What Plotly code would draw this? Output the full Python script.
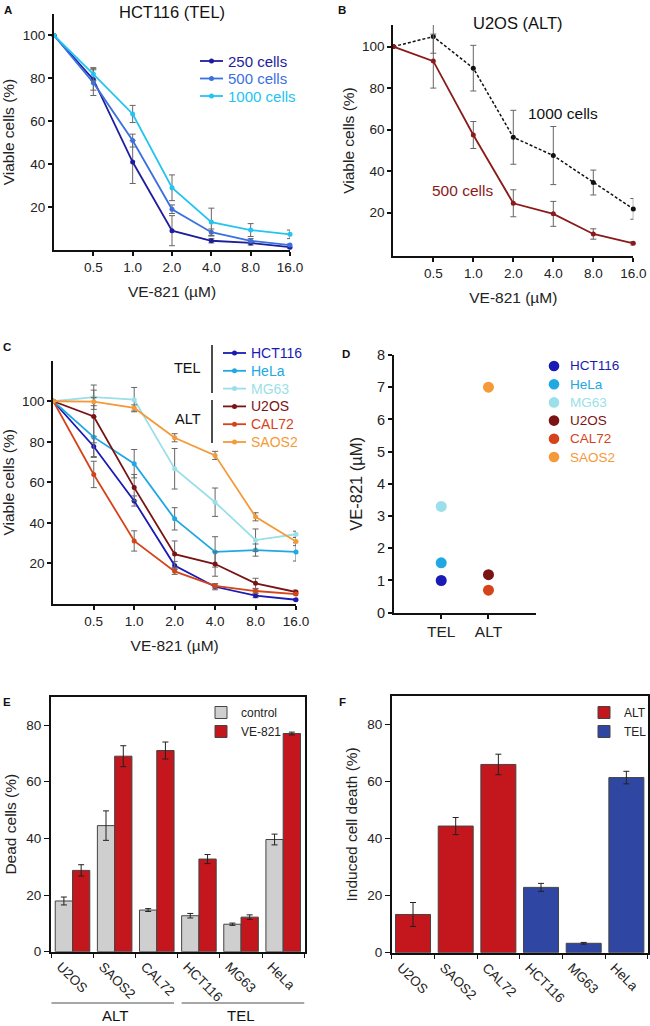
import plotly.graph_objects as go

W, H = 650, 1026
FONT = "Liberation Sans, Arial, sans-serif"

def fx(px):
    return px / W

def fy(py):
    return 1 - py / H

# ---------------- data ----------------
doses = ["0", "0.5", "1.0", "2.0", "4.0", "8.0", "16.0"]

# Panel A: HCT116 (TEL)
a_series = ["250 cells", "500 cells", "1000 cells"]
a_250 = [100, 79.5, 41, 9, 4.3, 3.3, 1.3]
a_250_err = [0, 5, 10, 7, 1, 1, 0.5]
a_500 = [100, 78, 51, 19, 8.3, 4.3, 2.3]
a_500_err = [0, 6, 3, 2, 1.5, 1, 0.5]
a_1000 = [100, 82, 63.4, 29, 13, 9.3, 7.3]
a_1000_err = [0, 3, 4, 6, 6.5, 3, 2]

# Panel B: U2OS (ALT)
b_1000 = [100, 104.8, 89.6, 56.3, 47.5, 34.5, 21.8]
b_1000_err = [0, 8, 11, 13, 14, 6, 5]
b_500 = [100, 93, 57.4, 24.5, 19.4, 9.7, 5.2]
b_500_err = [0, 13, 6.5, 6.5, 6, 2.5, 0.8]

# Panel C: cell lines
c_lines = ["HCT116", "HeLa", "MG63", "U2OS", "CAL72", "SAOS2"]
c_vals = {
    "HCT116": [100, 77.7, 50.8, 19, 8.5, 4.1, 2.1],
    "HeLa": [100, 82.3, 69.2, 42, 25.7, 26.6, 25.7],
    "MG63": [100, 102, 100.8, 66.7, 50.2, 31.5, 34.4],
    "U2OS": [100, 92.5, 57.4, 24.6, 19.7, 10.2, 5.9],
    "CAL72": [100, 63.9, 31.1, 16.1, 8.9, 6.4, 4.9],
    "SAOS2": [100, 99.8, 96.7, 82, 73.3, 43, 30.8],
}
c_errs = {
    "HCT116": [0, 5, 2.5, 2, 1.5, 1, 0.5],
    "HeLa": [0, 10, 7, 5.5, 7.5, 3, 4.5],
    "MG63": [0, 6, 6, 10, 7, 5.5, 1.5],
    "U2OS": [0, 13, 6.5, 6.5, 6, 2.5, 1],
    "CAL72": [0, 6.5, 5, 1.5, 1, 1, 0.5],
    "SAOS2": [0, 2, 1.5, 2, 2, 2, 2],
}

# Panel D: IC50-like values
d_lines = ["HCT116", "HeLa", "MG63", "U2OS", "CAL72", "SAOS2"]
d_groups = ["TEL", "TEL", "TEL", "ALT", "ALT", "ALT"]
d_vals = [1.0, 1.55, 3.3, 1.18, 0.7, 7.0]

# Panel E: dead cells
e_lines = ["U2OS", "SAOS2", "CAL72", "HCT116", "MG63", "HeLa"]
e_ctrl = [17.9, 44.5, 14.7, 12.7, 9.7, 39.6]
e_ctrl_err = [1.4, 5.2, 0.5, 0.8, 0.4, 1.9]
e_ve = [28.7, 69, 71, 32.7, 12.2, 77]
e_ve_err = [2, 3.7, 3, 1.6, 0.8, 0.5]

# Panel F: induced cell death
f_alt_lines = ["U2OS", "SAOS2", "CAL72"]
f_alt = [13.4, 44.4, 66]
f_alt_err = [4.2, 3, 3.6]
f_tel_lines = ["HCT116", "MG63", "HeLa"]
f_tel = [22.9, 3.3, 61.4]
f_tel_err = [1.4, 0.3, 2.2]

# ---------------- styles ----------------
a_colors = ["#1d1d9e", "#3b70e0", "#22c4f0"]
col_c = {"HCT116": "#1a1ab4", "HeLa": "#20a8e2", "MG63": "#9adfe9",
         "U2OS": "#7a1414", "CAL72": "#d5431a", "SAOS2": "#f49a38"}
RED = "#c3171d"
GRAY = "#cfcfcf"
BLUE = "#2f47a2"
ERRC = "#666666"

fig = go.Figure()
ann = []
shapes = []


def err(arr, color=ERRC, w=3):
    return dict(type="data", array=arr, visible=True, color=color, thickness=1, width=w)


def legend_entry(px_x0, px_x1, py, color, text, size, line=True, dot_r=2.5, text_gap=3):
    """Hand-drawn legend row (glyph + coloured text), in paper pixels."""
    if line:
        shapes.append(dict(type="line", xref="paper", yref="paper",
                           x0=fx(px_x0), x1=fx(px_x1), y0=fy(py), y1=fy(py),
                           line=dict(color=color, width=1.8)))
    cx = (px_x0 + px_x1) / 2
    shapes.append(dict(type="circle", xref="paper", yref="paper",
                       x0=fx(cx - dot_r), x1=fx(cx + dot_r), y0=fy(py + dot_r), y1=fy(py - dot_r),
                       fillcolor=color, line=dict(width=0)))
    ann.append(dict(text=text, x=fx(px_x1 + text_gap), y=fy(py), xref="paper", yref="paper",
                    xanchor="left", yanchor="middle", showarrow=False,
                    font=dict(family=FONT, size=size, color=color)))


# Panel A traces
for name, vals, errs, col in zip(a_series, [a_250, a_500, a_1000],
                                 [a_250_err, a_500_err, a_1000_err], a_colors):
    fig.add_trace(go.Scatter(
        x=doses, y=vals, error_y=err(errs), mode="lines+markers",
        line=dict(color=col, width=1.8), marker=dict(size=5, color=col),
        name=name, xaxis="x", yaxis="y", showlegend=False, cliponaxis=False))
for i, (name, col) in enumerate(zip(a_series, a_colors)):
    legend_entry(200, 223, 61 + 17.5 * i, col, name, 15)

# Panel B traces
fig.add_trace(go.Scatter(
    x=doses, y=b_1000, error_y=err(b_1000_err), mode="lines+markers",
    line=dict(color="#111111", width=1.5, dash="3px,2px"), marker=dict(size=5, color="#111111"),
    name="1000 cells", showlegend=False, xaxis="x2", yaxis="y2", cliponaxis=False))
fig.add_trace(go.Scatter(
    x=doses, y=b_500, error_y=err(b_500_err), mode="lines+markers",
    line=dict(color="#8b1a1a", width=1.8), marker=dict(size=5, color="#8b1a1a"),
    name="500 cells", showlegend=False, xaxis="x2", yaxis="y2", cliponaxis=False))

# Panel C traces
for ln in c_lines:
    fig.add_trace(go.Scatter(
        x=doses, y=c_vals[ln], error_y=err(c_errs[ln]), mode="lines+markers",
        line=dict(color=col_c[ln], width=1.8), marker=dict(size=5, color=col_c[ln]),
        name=ln, xaxis="x3", yaxis="y3", showlegend=False, cliponaxis=False))
for i, ln in enumerate(c_lines):
    legend_entry(223, 246, 353 + 17.8 * i, col_c[ln], ln, 14)

# Panel D traces
for ln, grp, v in zip(d_lines, d_groups, d_vals):
    fig.add_trace(go.Scatter(
        x=[grp], y=[v], mode="markers", marker=dict(size=11, color=col_c[ln]),
        name=ln, xaxis="x4", yaxis="y4", showlegend=False, cliponaxis=False))
for i, ln in enumerate(d_lines):
    legend_entry(549, 559, 366 + 18.2 * i, col_c[ln], ln, 13.5, line=False, dot_r=5.3, text_gap=9)

# Panel E traces
fig.add_trace(go.Bar(
    x=e_lines, y=e_ctrl, error_y=err(e_ctrl_err, "#222222", 3), name="control",
    marker=dict(color=GRAY, line=dict(color="#444444", width=1)),
    xaxis="x5", yaxis="y5", legend="legend", offsetgroup="ctrl"))
fig.add_trace(go.Bar(
    x=e_lines, y=e_ve, error_y=err(e_ve_err, "#222222", 3), name="VE-821",
    marker=dict(color=RED, line=dict(color="#444444", width=1)),
    xaxis="x5", yaxis="y5", legend="legend", offsetgroup="ve"))

# Panel F traces
fig.add_trace(go.Bar(
    x=f_alt_lines, y=f_alt, error_y=err(f_alt_err, "#222222", 3), name="ALT",
    marker=dict(color=RED, line=dict(color="#444444", width=1)),
    xaxis="x6", yaxis="y6", legend="legend2", offsetgroup="f"))
fig.add_trace(go.Bar(
    x=f_tel_lines, y=f_tel, error_y=err(f_tel_err, "#222222", 3), name="TEL",
    marker=dict(color=BLUE, line=dict(color="#444444", width=1)),
    xaxis="x6", yaxis="y6", legend="legend2", offsetgroup="f"))

# ---------------- axes ----------------
tick_font = dict(family=FONT, size=13.5, color="#222222")
title_font = dict(family=FONT, size=15.5, color="#222222")

line_ax = dict(showline=True, linecolor="#111111", linewidth=2, ticks="outside",
               ticklen=4, tickwidth=1.5, tickcolor="#111111", showgrid=False,
               zeroline=False, tickfont=tick_font)


def dose_x(dom, anchor):
    return dict(line_ax, domain=dom, anchor=anchor, type="category", range=[0, 6],
                categoryorder="array", categoryarray=doses,
                tickmode="array", tickvals=doses[1:], ticktext=doses[1:],
                title=dict(text="VE-821 (µM)", font=title_font, standoff=12))


def pct_y(dom, anchor, rng, title="Viable cells (%)"):
    return dict(line_ax, domain=dom, anchor=anchor, range=rng,
                tickmode="array", tickvals=[20, 40, 60, 80, 100],
                title=dict(text=title, font=title_font, standoff=4))


box_ax = dict(showline=True, mirror=True, linecolor="#111111", linewidth=1.5,
              ticks="outside", ticklen=5, tickwidth=1.2, tickcolor="#111111",
              showgrid=False, zeroline=False, tickfont=tick_font)

fig.update_layout(
    width=W, height=H, margin=dict(l=0, r=0, t=0, b=0, autoexpand=False),
    paper_bgcolor="white", plot_bgcolor="white",
    font=dict(family=FONT, size=13.5, color="#222222"),
    barmode="group", bargap=0.18, bargroupgap=0,
    xaxis=dose_x([fx(54), fx(290)], "y"),
    yaxis=pct_y([fy(250), fy(14)], "x", [0, 110]),
    xaxis2=dose_x([fx(393.3), fx(633.3)], "y2"),
    yaxis2=pct_y([fy(256), fy(25)], "x2", [-0.9, 110.4]),
    xaxis3=dose_x([fx(53.3), fx(296)], "y3"),
    yaxis3=pct_y([fy(604), fy(360.7)], "x3", [0, 120]),
    xaxis4=dict(line_ax, domain=[fx(394), fx(535.7)], anchor="y4", type="category",
                categoryorder="array", categoryarray=["TEL", "ALT"], range=[-1, 2],
                tickfont=dict(family=FONT, size=15.5, color="#222222")),
    yaxis4=dict(line_ax, domain=[fy(612.7), fy(355)], anchor="x4", range=[0, 8],
                dtick=1, tickfont=dict(family=FONT, size=14.5, color="#222222"),
                title=dict(text="VE-821 (µM)", font=dict(family=FONT, size=16.5, color="#222222"),
                           standoff=10)),
    xaxis5=dict(box_ax, domain=[fx(50.7), fx(305)], anchor="y5", type="category",
                categoryorder="array", categoryarray=e_lines, tickson="boundaries",
                tickangle=45, ticklabelshift=-12),
    yaxis5=dict(box_ax, domain=[fy(951.7), fy(696.7)], anchor="x5", range=[0, 90],
                tickvals=[0, 20, 40, 60, 80],
                title=dict(text="Dead cells (%)", font=title_font, standoff=6)),
    xaxis6=dict(box_ax, domain=[fx(391.7), fx(647.7)], anchor="y6", type="category",
                categoryorder="array", categoryarray=e_lines, tickson="boundaries",
                tickangle=45, ticklabelshift=-12),
    yaxis6=dict(box_ax, domain=[fy(952.7), fy(696)], anchor="x6", range=[0, 90],
                tickvals=[0, 20, 40, 60, 80],
                title=dict(text="Induced cell death (%)", font=title_font, standoff=6)),
    legend=dict(x=fx(201), y=fy(698), xanchor="left", yanchor="top",
                bgcolor="rgba(0,0,0,0)", font=dict(family=FONT, size=12, color="#222222"), itemwidth=30),
    legend2=dict(x=fx(584), y=fy(698), xanchor="left", yanchor="top",
                 bgcolor="rgba(0,0,0,0)", font=dict(family=FONT, size=12, color="#222222"), itemwidth=30),
)

# ---------------- annotations & shapes ----------------
for lab, px, py in [("A", 8, 10), ("B", 342, 10), ("C", 7, 347), ("D", 346, 354), ("E", 7, 702), ("F", 342, 702)]:
    ann.append(dict(text=f"<b>{lab}</b>", x=fx(px), y=fy(py), xref="paper", yref="paper",
                    xanchor="center", yanchor="middle", showarrow=False,
                    font=dict(family=FONT, size=11.5, color="#111111")))

ann.append(dict(text="HCT116 (TEL)", x=fx(172), y=fy(12), xref="paper", yref="paper",
                showarrow=False, xanchor="center", yanchor="middle",
                font=dict(family=FONT, size=16.5, color="#111111")))
ann.append(dict(text="U2OS (ALT)", x=fx(518), y=fy(23), xref="paper", yref="paper",
                showarrow=False, xanchor="center", yanchor="middle",
                font=dict(family=FONT, size=16.5, color="#111111")))
# Panel B series labels (in data coordinates)
ann.append(dict(text="1000 cells", x=4.24, y=68, xref="x2", yref="y2", showarrow=False,
                font=dict(family=FONT, size=15.5, color="#111111")))
ann.append(dict(text="500 cells", x=1.72, y=30.5, xref="x2", yref="y2", showarrow=False,
                font=dict(family=FONT, size=15.5, color="#8b1a1a")))
# Panel C group labels
ann.append(dict(text="TEL", x=fx(203), y=fy(368), xref="paper", yref="paper", showarrow=False,
                xanchor="right", yanchor="middle", font=dict(family=FONT, size=14.5, color="#111111")))
ann.append(dict(text="ALT", x=fx(203), y=fy(419), xref="paper", yref="paper", showarrow=False,
                xanchor="right", yanchor="middle", font=dict(family=FONT, size=14.5, color="#111111")))
# Panel E group labels
ann.append(dict(text="ALT", x=1, y=fy(1015), xref="x5", yref="paper", showarrow=False,
                yanchor="middle", font=dict(family=FONT, size=15, color="#111111")))
ann.append(dict(text="TEL", x=4, y=fy(1015), xref="x5", yref="paper", showarrow=False,
                yanchor="middle", font=dict(family=FONT, size=15, color="#111111")))

shapes += [
    dict(type="line", xref="paper", yref="paper", x0=fx(212), x1=fx(212), y0=fy(345), y1=fy(393),
         line=dict(color="#111111", width=1.5)),
    dict(type="line", xref="paper", yref="paper", x0=fx(212), x1=fx(212), y0=fy(400), y1=fy(443),
         line=dict(color="#111111", width=1.5)),
    dict(type="line", xref="x5", yref="paper", x0=-0.5, x1=2.41, y0=fy(1003), y1=fy(1003),
         line=dict(color="#888888", width=1.5)),
    dict(type="line", xref="x5", yref="paper", x0=2.59, x1=5.5, y0=fy(1003), y1=fy(1003),
         line=dict(color="#888888", width=1.5)),
]

fig.update_layout(annotations=ann, shapes=shapes)

# Remove the browser's default 8px body margin so the figure fills the window exactly,
# and hide the interactive mode bar.
fig.write_html("out.html", config={"displayModeBar": False},
               post_script="document.body.style.margin='0';")
